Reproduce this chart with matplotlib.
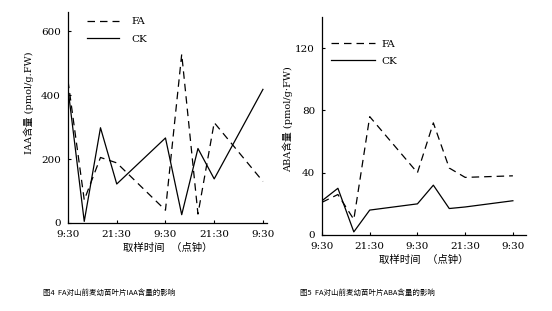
import matplotlib.pyplot as plt

plt.rcParams['font.family'] = ['DejaVu Serif', 'Noto Sans CJK SC']

# sampling times (hours after first 9:30 sample)
hours = [0, 4, 8, 12, 24, 28, 32, 36, 48]
tick_hours = [0, 12, 24, 36, 48]
tick_labels = ["9:30", "21:30", "9:30", "21:30", "9:30"]

# IAA content (pmol/g.FW)
iaa_fa = [445, 72, 205, 188, 40, 528, 28, 314, 130]
iaa_ck = [420, 5, 298, 122, 266, 26, 233, 138, 418]

# ABA content
aba_fa = [21, 26, 10, 76, 40, 72, 43, 37, 38]
aba_ck = [22, 30, 2, 16, 20, 32, 17, 18, 22]

fig = plt.figure(figsize=(5.52, 3.11), dpi=100)
W, H = 552, 311

ax1 = fig.add_axes([68 / W, 1 - 223 / H, (267 - 68) / W, (223 - 12) / H])
ax2 = fig.add_axes([322 / W, 1 - 235 / H, (526 - 322) / W, (235 - 17) / H])

dash = (0, (6, 4))
for ax, fa, ck, ylim, yticks, ylabel, xmax in [
    (ax1, iaa_fa, iaa_ck, 660, [0, 200, 400, 600], "IAA含量 (pmol/g.FW)", 49),
    (ax2, aba_fa, aba_ck, 140, [0, 40, 80, 120], "ABA含量 (pmol/g·FW)", 51.3),
]:
    ax.plot(hours, fa, color='black', lw=0.9, linestyle=dash, label="FA")
    ax.plot(hours, ck, color='black', lw=0.9, label="CK")
    ax.set_xlim(0, xmax)
    ax.set_ylim(0, ylim)
    ax.set_yticks(yticks)
    ax.set_xticks(tick_hours)
    ax.set_xticklabels(tick_labels)
    ax.tick_params(direction='in', length=2, width=0.8, labelsize=7.5, pad=5)
    for s in ['top', 'right']:
        ax.spines[s].set_visible(False)
    for s in ['left', 'bottom']:
        ax.spines[s].set_linewidth(0.9)
    ax.set_ylabel(ylabel, fontsize=7)
    ax.set_xlabel("取样时间  （点钟）", fontsize=7.5, labelpad=3)

ax1.yaxis.set_label_coords(-0.17, 0.57)
ax2.yaxis.set_label_coords(-0.14, 0.53)

ax1.legend(frameon=False, loc='upper left', bbox_to_anchor=(0.05, 1.02),
           handlelength=3.0, fontsize=7.5, labelspacing=0.75, handletextpad=1.2)
ax2.legend(frameon=False, loc='upper left', bbox_to_anchor=(0.0, 0.94),
           handlelength=4.2, fontsize=7.5, labelspacing=0.75, handletextpad=0.6)

fig.text(43 / W, 1 - 293 / H, "图4  FA对山前麦幼苗叶片IAA含量的影响",
         fontsize=5.4, va='center', family=['Noto Sans CJK SC'])
fig.text(300 / W, 1 - 293 / H, "图5  FA对山前麦幼苗叶片ABA含量的影响",
         fontsize=5.4, va='center', family=['Noto Sans CJK SC'])

fig.savefig("out.png", dpi=100)
